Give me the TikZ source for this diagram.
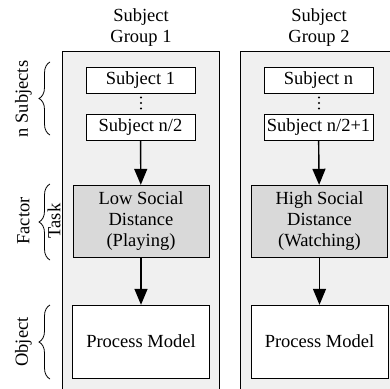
\documentclass[tikz,border=0pt]{standalone}
\usepackage{fontspec}
\setmainfont{Liberation Serif}
\usepackage{tikz}
\usetikzlibrary{arrows.meta}
\usetikzlibrary{decorations.pathreplacing}

\begin{document}
\begin{tikzpicture}[x=1pt,y=-1pt,font=\fontsize{18.5}{21}\selectfont,
  subj/.style={draw,fill=white,minimum width=109pt,minimum height=26pt,inner sep=0pt},
  factor/.style={draw,fill=black!15,minimum width=136pt,minimum height=72pt,align=center,inner sep=0pt},
  obj/.style={draw,fill=white,minimum width=137pt,minimum height=73pt,inner sep=0pt},
  flow/.style={line width=1.4pt,-{Triangle[length=16pt,width=13pt]}},
  brc/.style={decorate,decoration={brace,amplitude=11pt},line width=0.8pt}]
          \useasboundingbox (0,0) rectangle (390,388);
          \clip (0,0) rectangle (390,388);
          \draw[fill=black!6] (62,51) rectangle (219,400);
          \draw[fill=black!6] (240,51) rectangle (400,400);
          \node[align=center] (g1) at (141,28) {Subject\\Group 1};
          \node[align=center] (g2) at (319,28) {Subject\\Group 2};
          % group 1
          \node[subj] (s1) at (140.5,80) {Subject 1};
          \node[subj] (s2) at (140.5,127) {Subject n/2};
          \node[factor] (low) at (141,221) {Low Social\\Distance\\(Playing)};
          \node[obj] (pm1) at (141,341.5) {Process Model};
          \draw[flow] (s2) -- (low);
          \draw[flow] (low) -- (pm1);
          % group 2
          \node[subj] (s3) at (318.5,80) {Subject n};
          \node[subj] (s4) at (318.5,127) {Subject n/2+1};
          \node[factor] (high) at (319.5,221) {High Social\\Distance\\(Watching)};
          \node[obj] (pm2) at (319.5,341.5) {Process Model};
          \draw[flow] (s4) -- (high);
          \draw[flow] (high) -- (pm2);
          % dots between the subjects
          \foreach \y in {97.5,103,108.5}{
            \fill (141,\y) circle (1.2);
            \fill (319,\y) circle (1.2);
          }
          % braces on the left
          \coordinate (b1) at (50,135); \coordinate (t1) at (50,62);
          \coordinate (b2) at (50,260); \coordinate (t2) at (50,184);
          \coordinate (b3) at (50,379); \coordinate (t3) at (50,305);
          \draw[brc] (b1) -- (t1);
          \draw[brc] (b2) -- (t2);
          \draw[brc] (b3) -- (t3);
          \node[rotate=90] (ns) at (23.5,99) {n Subjects};
          \node[rotate=90] (fa) at (23.5,221) {Factor};
          \node[rotate=90] (ta) at (54,221) {Task};
          \node[rotate=90] (ob) at (23.5,342) {Object};
        \end{tikzpicture}
\end{document}
